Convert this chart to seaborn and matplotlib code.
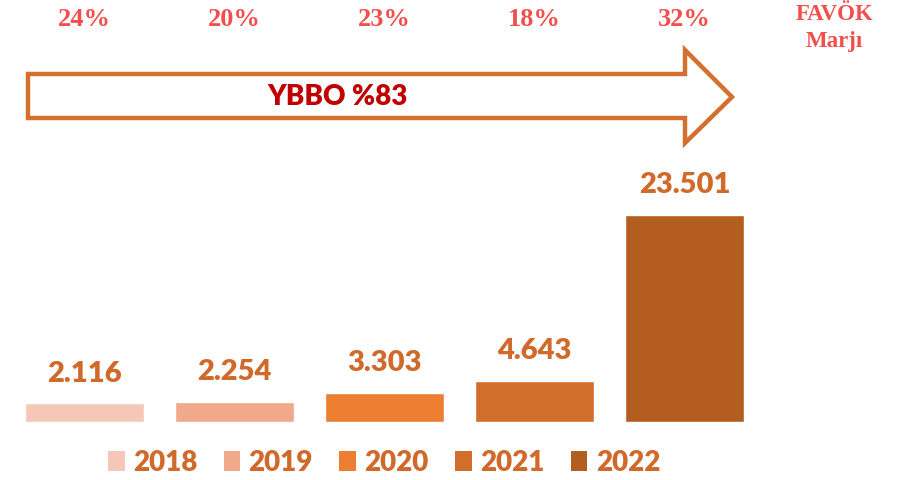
import matplotlib
matplotlib.use("Agg")
import matplotlib.pyplot as plt
import matplotlib.transforms as mtransforms
from matplotlib.patches import Polygon, Patch
import seaborn as sns
import pandas as pd

# data
years = ["2018", "2019", "2020", "2021", "2022"]
favok = [2116, 2254, 3303, 4643, 23501]
favok_labels = ["2.116", "2.254", "3.303", "4.643", "23.501"]
margins = ["24%", "20%", "23%", "18%", "32%"]
bar_colors = ["#F4C7B8", "#F0A98A", "#ED7D31", "#D26E2C", "#B35D21"]

sns.set_theme(style="white")
plt.rcParams['font.family'] = ['Lato', 'DejaVu Sans']

df = pd.DataFrame({"year": years, "favok": favok})

fig = plt.figure(figsize=(9.07, 4.8), dpi=100)
ax = fig.add_axes([0, 58 / 480, 1, 422 / 480])

sns.barplot(data=df, x="year", y="favok", hue="year", palette=bar_colors,
            width=0.79, saturation=1, legend=False, ax=ax)
ax.set_xlim(-0.563, 5.483)
ax.set_ylim(0, 47900)
ax.axis("off")

label_color = "#D06A2B"
for i, (v, lab) in enumerate(zip(favok, favok_labels)):
    ax.annotate(lab, (i, v), xytext=(0, 12), textcoords="offset points",
                ha="center", va="bottom", fontsize=21, fontweight="heavy",
                color=label_color)

# margin row at the top
trans = mtransforms.blended_transform_factory(ax.transData, fig.transFigure)
red = "#F24F4C"
for i, m in enumerate(margins):
    ax.text(i, 1 - 20 / 480, m, transform=trans, ha="center", va="center",
            fontsize=19, fontweight="bold", color=red,
            family="Liberation Serif")
ax.text(5, 1 - 15 / 480, "FAVÖK", transform=trans, ha="center", va="center",
        fontsize=16.5, fontweight="bold", color=red, family="Liberation Serif")
ax.text(5, 1 - 41 / 480, "Marjı", transform=trans, ha="center", va="center",
        fontsize=16.5, fontweight="bold", color=red, family="Liberation Serif")

# growth arrow
W, H = 907, 480
pts = [(28, 74), (685, 74), (685, 50), (732, 97), (685, 143), (685, 118), (28, 118)]
arrow = Polygon([(x / W, 1 - y / H) for x, y in pts], closed=True,
                facecolor="white", edgecolor="#D4702E", linewidth=3.2,
                joinstyle="miter", transform=fig.transFigure)
fig.patches.append(arrow)
fig.text(338 / W, 1 - 97 / H, "YBBO %83", ha="center", va="center",
         fontsize=20, fontweight="heavy", color="#C00000")

# legend
handles = [Patch(facecolor=c, edgecolor="none", label=y) for y, c in zip(years, bar_colors)]
leg = fig.legend(handles=handles, loc="center", bbox_to_anchor=(384 / W, 1 - 463 / H),
                 ncol=5, frameon=False, fontsize=20, handlelength=0.6,
                 handleheight=0.75, handletextpad=0.3, columnspacing=0.95,
                 borderpad=0)
for t in leg.get_texts():
    t.set_color(label_color)
    t.set_fontweight("heavy")

fig.savefig("out.png", dpi=100)
